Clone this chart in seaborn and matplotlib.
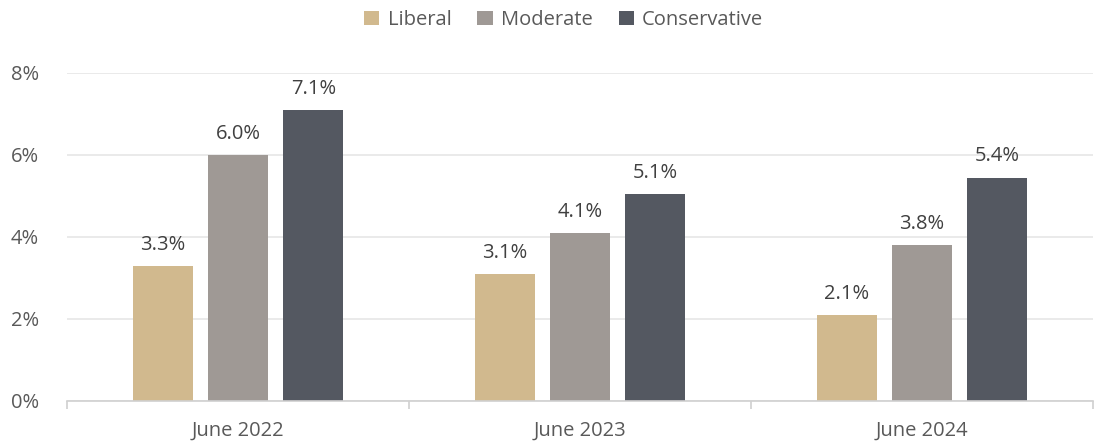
import matplotlib
matplotlib.use("Agg")
import matplotlib.pyplot as plt
import seaborn as sns
import pandas as pd
from matplotlib.ticker import FuncFormatter, FixedLocator

periods = ["June 2022", "June 2023", "June 2024"]
groups = ["Liberal", "Moderate", "Conservative"]
liberal = [3.3, 3.1, 2.1]
moderate = [6.0, 4.1, 3.8]
conservative = [7.1, 5.05, 5.45]
value_labels = {
    "Liberal": ["3.3%", "3.1%", "2.1%"],
    "Moderate": ["6.0%", "4.1%", "3.8%"],
    "Conservative": ["7.1%", "5.1%", "5.4%"],
}
palette = {"Liberal": "#D1B98E", "Moderate": "#9F9995", "Conservative": "#545861"}

rows = []
for name, vals in zip(groups, [liberal, moderate, conservative]):
    for p, v in zip(periods, vals):
        rows.append({"period": p, "group": name, "value": v})
df = pd.DataFrame(rows)

sns.set_theme(style="white")
plt.rcParams["font.family"] = ["Open Sans", "DejaVu Sans"]

fig = plt.figure(figsize=(10.97, 4.42), dpi=100)
ax = fig.add_axes([67 / 1097, 1 - 401 / 442, (1093 - 67) / 1097, (401 - 73) / 442])

sns.barplot(data=df, x="period", y="value", hue="group", hue_order=groups,
            order=periods, palette=palette, width=0.66, gap=0.2,
            saturation=1, linewidth=0, ax=ax, legend=True)

text_color = "#404040"
for cont, name in zip(ax.containers, groups):
    ax.bar_label(cont, labels=value_labels[name], padding=8, fontsize=14.5,
                 color=text_color)

ax.set_xlim(-0.5, 2.5)
ax.set_ylim(0, 8)
ax.yaxis.set_major_locator(FixedLocator([0, 2, 4, 6, 8]))
ax.yaxis.set_major_formatter(FuncFormatter(lambda v, _: f"{v:.0f}%"))
ax.grid(axis="y", color="#E6E6E6", linewidth=1.2)
ax.set_axisbelow(True)
for s in ["top", "right", "left"]:
    ax.spines[s].set_visible(False)
ax.spines["bottom"].set_color("#D0D0D0")
ax.spines["bottom"].set_linewidth(1.2)

ax.set_xlabel("")
ax.set_ylabel("")
ax.tick_params(axis="y", length=0, labelsize=14.5, labelcolor="#595959", pad=20)
ax.tick_params(axis="x", which="major", length=0, labelsize=14.5,
               labelcolor="#595959", pad=14)
ax.xaxis.set_minor_locator(FixedLocator([-0.5, 0.5, 1.5, 2.5]))
ax.tick_params(axis="x", which="minor", bottom=True, length=6, width=1.2,
               color="#D0D0D0", direction="out")

handles, labels = ax.get_legend_handles_labels()
ax.legend(handles, labels, loc="center", bbox_to_anchor=(0.484, (401 - 20) / 328),
          ncol=3, frameon=False, fontsize=14.5, labelcolor="#595959",
          handlelength=0.75, handleheight=0.75, handletextpad=0.4,
          columnspacing=1.3)

fig.savefig("out.png", dpi=100)
